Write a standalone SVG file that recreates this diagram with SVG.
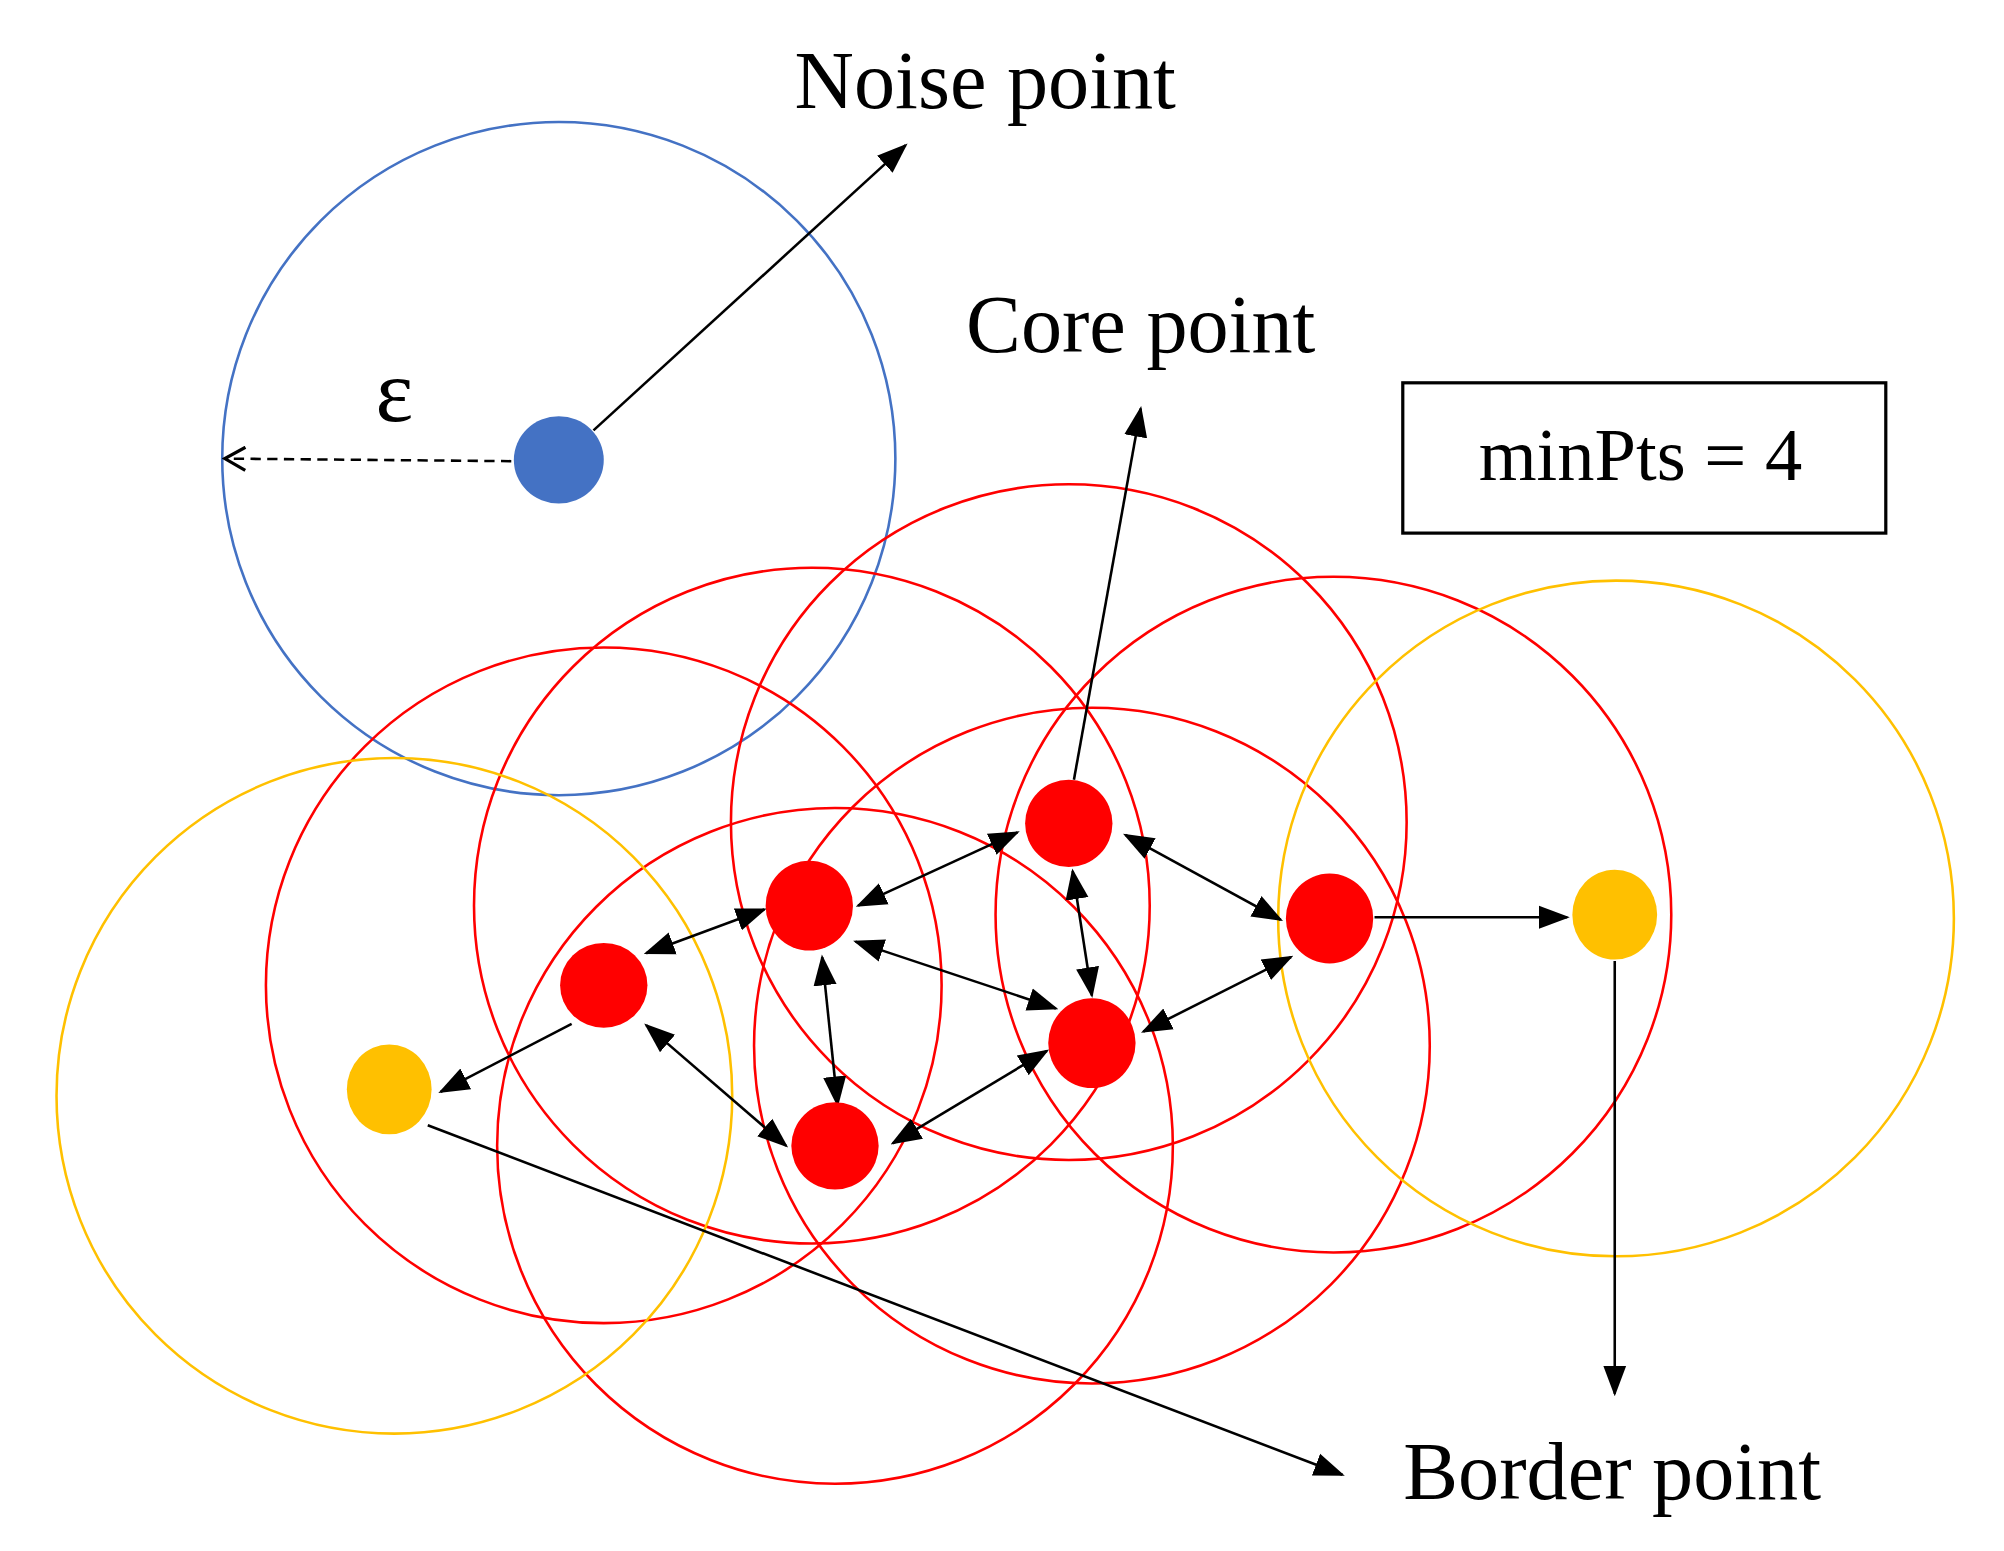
<svg xmlns="http://www.w3.org/2000/svg" width="2004" height="1551" viewBox="0 0 2004 1551">
<defs>
<marker id="ah" markerUnits="userSpaceOnUse" markerWidth="24" markerHeight="20" refX="22" refY="9" orient="auto-start-reverse" viewBox="0 0 24 18"><path d="M0,0 L24,9 L0,18 z" fill="#000"/></marker>
<marker id="ao" markerUnits="userSpaceOnUse" markerWidth="20" markerHeight="20" refX="18" refY="9" orient="auto" viewBox="0 0 20 18"><path d="M2,0 L18,9 L2,18" fill="none" stroke="#000" stroke-width="2.5"/></marker>
<style>
.rc{fill:none;stroke:#ff0000;stroke-width:2}
.yc{fill:none;stroke:#ffc000;stroke-width:2}
.bc{fill:none;stroke:#4472c4;stroke-width:2}
.rd{fill:#ff0000}.yd{fill:#ffc000}.bd{fill:#4472c4}
.l{stroke:#000;stroke-width:2;fill:none}
.d{stroke:#000;stroke-width:2;fill:none;marker-start:url(#ah);marker-end:url(#ah)}
.s{stroke:#000;stroke-width:2;fill:none;marker-end:url(#ah)}
text{font-family:"Liberation Serif","Times New Roman",serif;fill:#000}
</style>
</defs>
<g transform="scale(1.2846)">
<g id="circles">
<circle class="bc" cx="435" cy="357" r="262"/>
<circle class="rc" cx="832" cy="640" r="263"/>
<circle class="rc" cx="632" cy="705" r="263"/>
<circle class="rc" cx="470" cy="767" r="263"/>
<circle class="rc" cx="650" cy="892" r="263"/>
<circle class="rc" cx="850" cy="814" r="263"/>
<circle class="rc" cx="1038" cy="712" r="263"/>
<circle class="yc" cx="1258" cy="715" r="263"/>
<circle class="yc" cx="307" cy="853" r="263"/>
</g>
<g id="connectors">
<line class="s" x1="462" y1="335" x2="705" y2="113"/>
<line class="s" x1="836" y1="607" x2="888" y2="318"/>
<line class="l" x1="398" y1="359" x2="175" y2="357" stroke-dasharray="8,5" marker-end="url(#ao)"/>
<line class="s" x1="1070" y1="714" x2="1220" y2="714"/>
<line class="s" x1="1257" y1="748" x2="1257" y2="1085"/>
<line class="s" x1="333" y1="876" x2="1045" y2="1148"/>
<line class="s" x1="445" y1="797" x2="343" y2="850"/>
<line class="d" x1="668" y1="705" x2="792" y2="648"/>
<line class="d" x1="503" y1="742" x2="595" y2="708"/>
<line class="d" x1="876" y1="650" x2="997" y2="716"/>
<line class="d" x1="835" y1="678" x2="850" y2="775"/>
<line class="d" x1="666" y1="733" x2="822" y2="785"/>
<line class="d" x1="640" y1="745" x2="652" y2="860"/>
<line class="d" x1="890" y1="803" x2="1005" y2="745"/>
<line class="d" x1="695" y1="890" x2="815" y2="818"/>
<line class="d" x1="503" y1="798" x2="612" y2="892"/>
</g>
<g id="noise"><ellipse class="bd" cx="435" cy="358" rx="35" ry="34"/></g>
<g id="p1"><ellipse class="rd" cx="832" cy="641" rx="34" ry="34"/></g>
<g id="p2"><ellipse class="rd" cx="630" cy="705" rx="34" ry="35"/></g>
<g id="p3"><ellipse class="rd" cx="470" cy="767" rx="34" ry="33"/></g>
<g id="p4"><ellipse class="rd" cx="650" cy="892" rx="34" ry="34"/></g>
<g id="p5"><ellipse class="rd" cx="850" cy="812" rx="34" ry="35"/></g>
<g id="p6"><ellipse class="rd" cx="1035" cy="715" rx="34" ry="35"/></g>
<g id="b1"><ellipse class="yd" cx="1257" cy="712" rx="33" ry="35"/></g>
<g id="b2"><ellipse class="yd" cx="303" cy="848" rx="33" ry="35"/></g>
<g id="labels">
<text x="767" y="84" font-size="64" text-anchor="middle">Noise point</text>
<text x="888" y="274" font-size="64" text-anchor="middle">Core point</text>
<text x="1255" y="1167" font-size="64" text-anchor="middle">Border point</text>
<text x="307" y="328" font-size="70" text-anchor="middle">ε</text>
<g id="box"><rect x="1092" y="298" width="376" height="117" fill="none" stroke="#000" stroke-width="2.5"/>
<text x="1277" y="374" font-size="58" text-anchor="middle">minPts = 4</text></g>
</g>
</g>
</svg>
